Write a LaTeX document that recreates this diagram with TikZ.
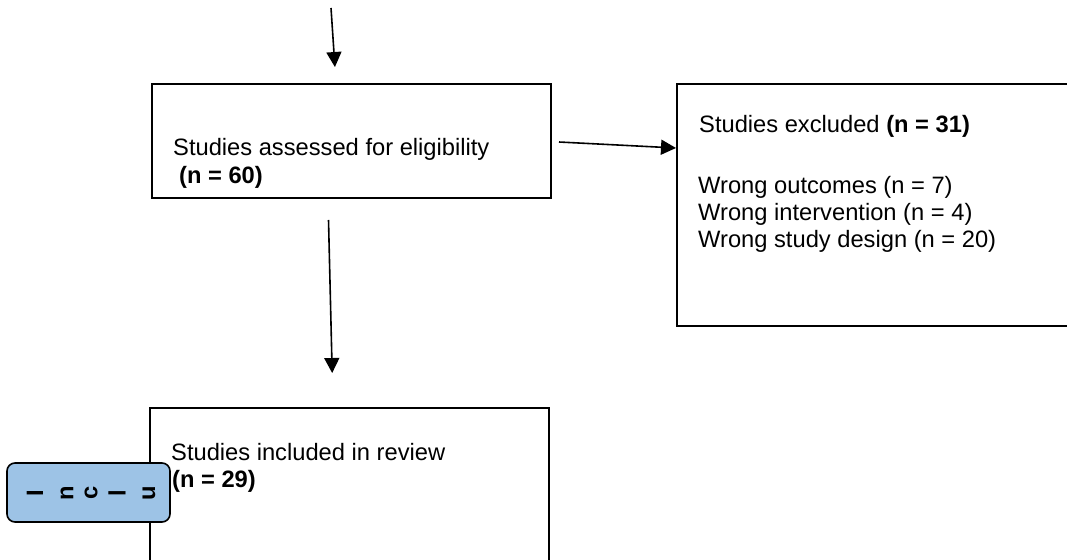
\documentclass[tikz,border=0pt]{standalone}
\usepackage{fontspec}
\setmainfont{Liberation Sans}
\usetikzlibrary{arrows.meta,calc}
\definecolor{labelblue}{RGB}{157,195,230}
\begin{document}
\begin{tikzpicture}[x=1pt,y=-1pt,
  box/.style={draw=black,line width=2pt,anchor=north west,inner sep=0pt},
  txt/.style={anchor=base west,inner sep=0pt,font=\fontsize{23.7}{27}\selectfont},
  arr/.style={draw=black,line width=1.6pt,-{Triangle[length=15pt,width=15pt]}},
  side/.style={draw=black,line width=1.6pt,fill=labelblue,rounded corners=8pt},
  sidech/.style={rotate=90,inner sep=0pt,font=\fontsize{23.7}{27}\selectfont\bfseries}]
\clip (0,0) rectangle (1067,559);
\fill[white] (0,0) rectangle (1067,559);
% boxes
\node[box,minimum width=399pt,minimum height=114pt] (assess) at (151,83) {};
\node[box,minimum width=420pt,minimum height=242pt] (excl) at (676,83) {};
\node[box,minimum width=399pt,minimum height=180pt] (incl) at (149,407) {};
% texts
\node[txt] (t1) at (173,155) {Studies assessed for eligibility};
\node[txt] (t2) at (179,183) {\textbf{(n = 60)}};
\node[txt] (t3) at (699,132) {Studies excluded \textbf{(n = 31)}};
\node[txt] (t4) at (698,193) {Wrong outcomes (n = 7)};
\node[txt] (t5) at (698,220) {Wrong intervention (n = 4)};
\node[txt] (t6) at (698,247) {Wrong study design (n = 20)};
\node[txt] (t7) at (171,460) {Studies included in review};
\node[txt] (t8) at (172,487) {\textbf{(n = 29)}};
% arrows
\coordinate (top0) at (331,8);
\draw[arr,shorten >=16pt] (top0) -- ($(assess.north west)+(185,0)$);
\draw[arr,shorten <=21pt,shorten >=34pt] ($(assess.south west)+(177,0)$) -- ($(incl.north west)+(184,0)$);
\draw[arr] ($(assess.north east)+(7,59)$) -- ($(excl.north west)+(0,65)$);
% side label
\draw[side] (7,463) rectangle (170,522);
\node[sidech] (c1) at (35,493) {I};
\node[sidech] (c2) at (67,493) {n};
\node[sidech] (c3) at (91,493) {c};
\node[sidech] (c4) at (117,493) {l};
\node[sidech] (c5) at (149,493) {u};
\end{tikzpicture}
\end{document}
